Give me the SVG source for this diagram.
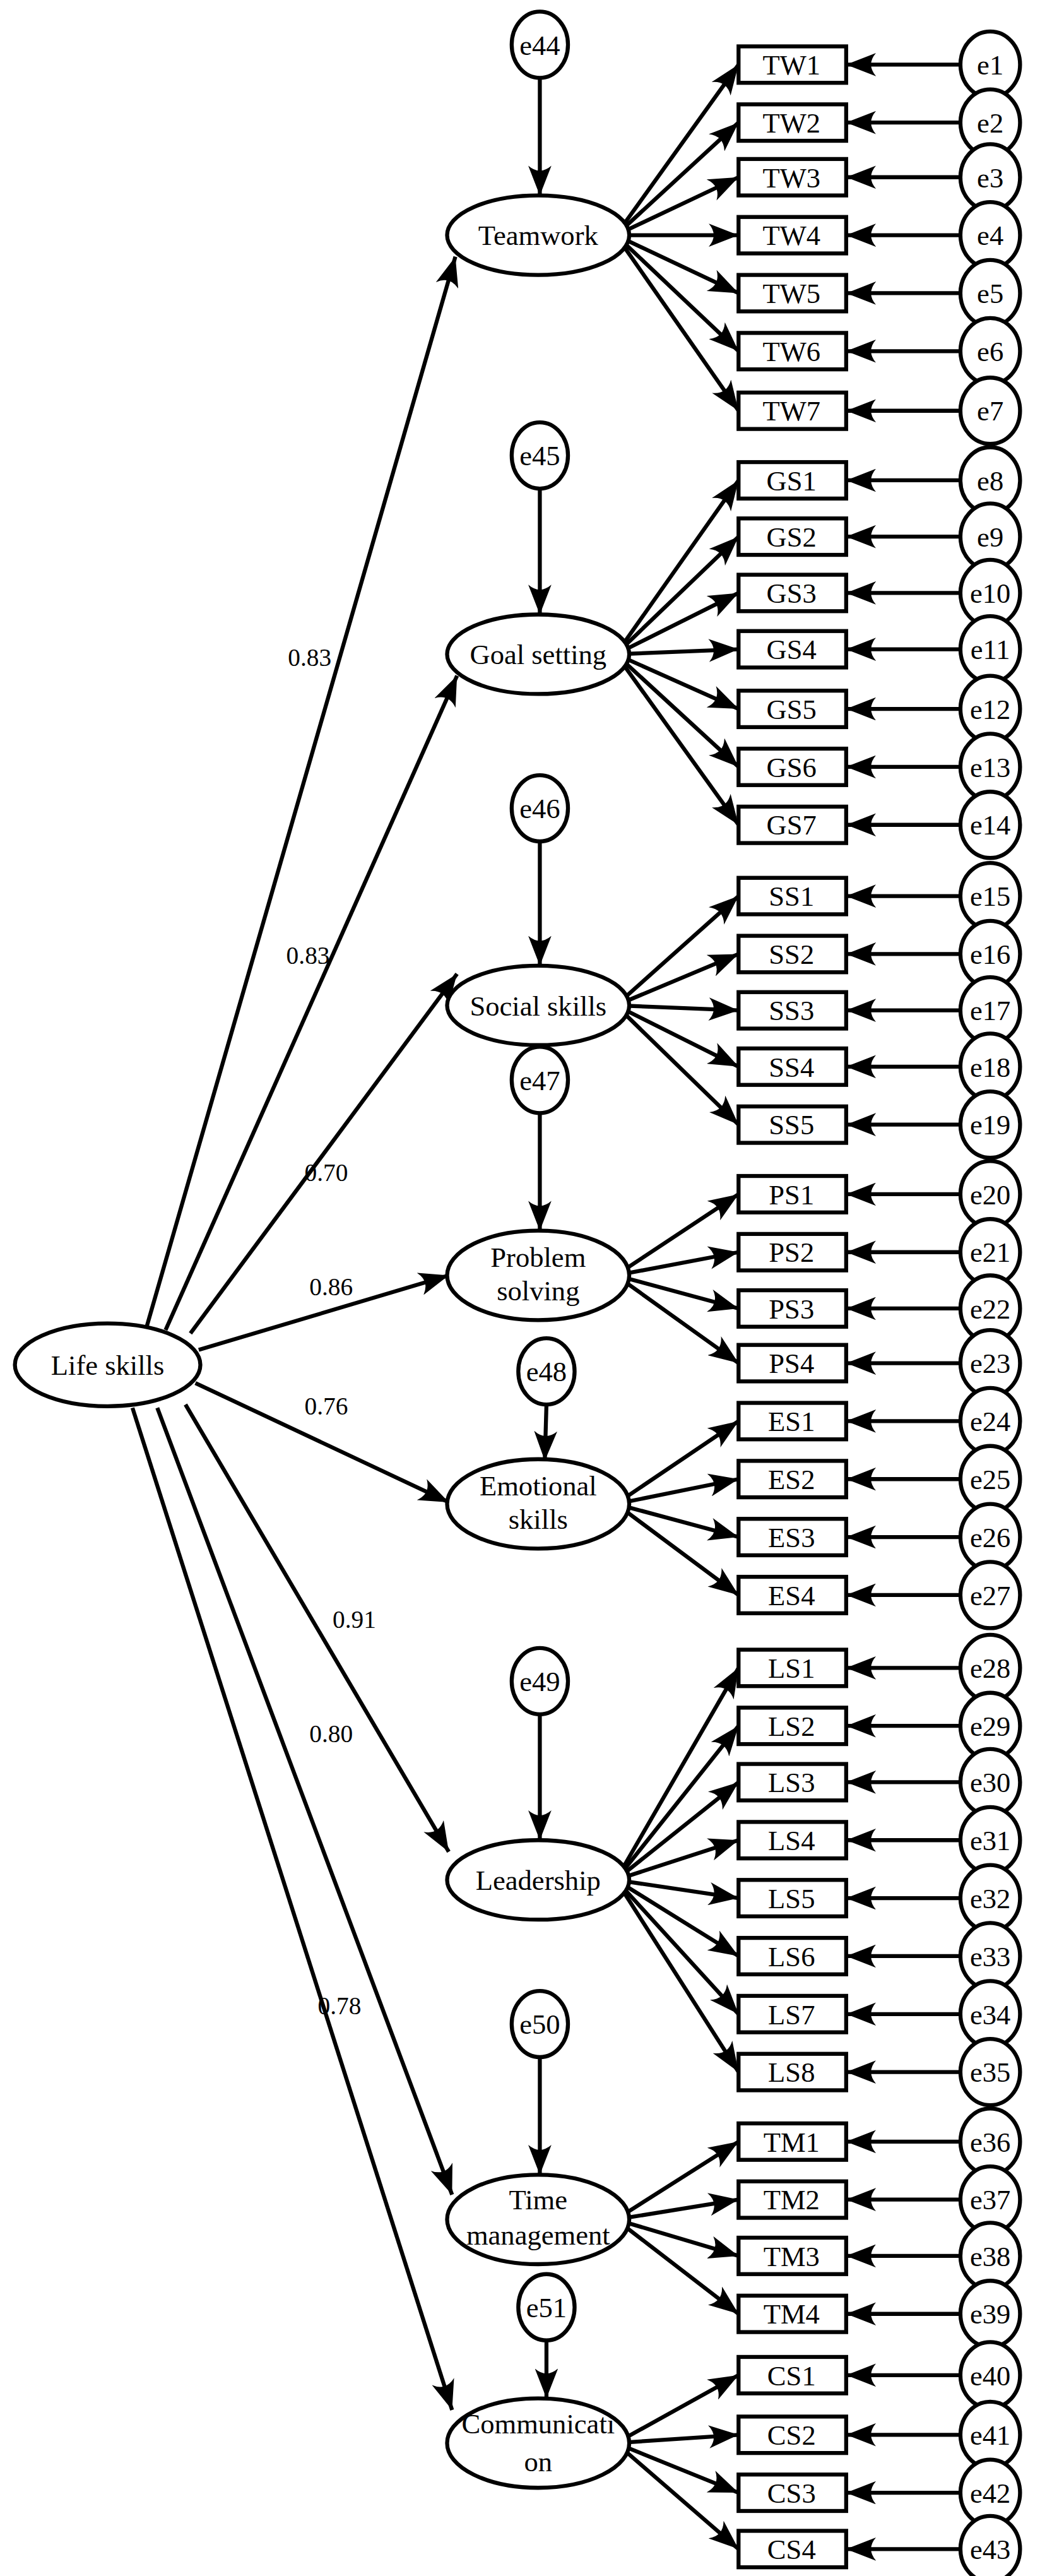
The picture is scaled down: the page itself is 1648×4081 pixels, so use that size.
<svg xmlns="http://www.w3.org/2000/svg" width="1648" height="4081" viewBox="0 0 1648 4081">
<style>
.n{fill:#fff;stroke:#000;stroke-width:2.4}
.c line{stroke:#000;stroke-width:2.4;marker-end:url(#a)}
text{font-family:"Liberation Serif","Times New Roman",serif;font-size:17px;text-anchor:middle;fill:#000}
.l{font-size:15px}
</style>
<defs><marker id="a" markerUnits="userSpaceOnUse" markerWidth="18" markerHeight="14" refX="18" refY="7" orient="auto"><path d="M0,0 L18,7 L0,14 Q6,7 0,0 z" fill="#000"/></marker></defs>
<rect width="1648" height="4081" fill="#fff"/>
<g transform="scale(2.624)">
<g id="connectors" class="c">
<line x1="88" y1="803" x2="275" y2="155"/>
<line x1="100" y1="803" x2="276" y2="408"/>
<line x1="115" y1="805" x2="276" y2="588"/>
<line x1="120" y1="815" x2="271" y2="770"/>
<line x1="118" y1="835" x2="271" y2="907"/>
<line x1="112" y1="848" x2="271" y2="1118"/>
<line x1="95" y1="850" x2="273" y2="1325"/>
<line x1="80" y1="850" x2="273" y2="1455"/>
<line x1="326" y1="47" x2="326" y2="118"/>
<line x1="326" y1="295" x2="326" y2="371"/>
<line x1="326" y1="508" x2="326" y2="583"/>
<line x1="326" y1="672" x2="326" y2="743"/>
<line x1="330" y1="848" x2="329" y2="882"/>
<line x1="326" y1="1035" x2="326" y2="1111"/>
<line x1="326" y1="1242" x2="326" y2="1313"/>
<line x1="330" y1="1413" x2="330" y2="1448"/>
<line x1="372" y1="142" x2="446" y2="39"/><line x1="372" y1="142" x2="446" y2="74"/><line x1="372" y1="142" x2="446" y2="107"/><line x1="372" y1="142" x2="446" y2="142"/><line x1="372" y1="142" x2="446" y2="177"/><line x1="372" y1="142" x2="446" y2="212"/><line x1="372" y1="142" x2="446" y2="248"/>
<line x1="372" y1="395" x2="446" y2="290"/><line x1="372" y1="395" x2="446" y2="324"/><line x1="372" y1="395" x2="446" y2="358"/><line x1="372" y1="395" x2="446" y2="392"/><line x1="372" y1="395" x2="446" y2="428"/><line x1="372" y1="395" x2="446" y2="463"/><line x1="372" y1="395" x2="446" y2="498"/>
<line x1="372" y1="607" x2="446" y2="541"/><line x1="372" y1="607" x2="446" y2="576"/><line x1="372" y1="607" x2="446" y2="610"/><line x1="372" y1="607" x2="446" y2="644"/><line x1="372" y1="607" x2="446" y2="679"/>
<line x1="372" y1="770" x2="446" y2="721"/><line x1="372" y1="770" x2="446" y2="756"/><line x1="372" y1="770" x2="446" y2="790"/><line x1="372" y1="770" x2="446" y2="823"/>
<line x1="372" y1="908" x2="446" y2="858"/><line x1="372" y1="908" x2="446" y2="893"/><line x1="372" y1="908" x2="446" y2="928"/><line x1="372" y1="908" x2="446" y2="963"/>
<line x1="372" y1="1135" x2="446" y2="1007"/><line x1="372" y1="1135" x2="446" y2="1042"/><line x1="372" y1="1135" x2="446" y2="1076"/><line x1="372" y1="1135" x2="446" y2="1111"/><line x1="372" y1="1135" x2="446" y2="1146"/><line x1="372" y1="1135" x2="446" y2="1181"/><line x1="372" y1="1135" x2="446" y2="1216"/><line x1="372" y1="1135" x2="446" y2="1251"/>
<line x1="372" y1="1340" x2="446" y2="1293"/><line x1="372" y1="1340" x2="446" y2="1328"/><line x1="372" y1="1340" x2="446" y2="1362"/><line x1="372" y1="1340" x2="446" y2="1397"/>
<line x1="372" y1="1475" x2="446" y2="1434"/><line x1="372" y1="1475" x2="446" y2="1470"/><line x1="372" y1="1475" x2="446" y2="1505"/><line x1="372" y1="1475" x2="446" y2="1539"/>
<line x1="598" y1="39" x2="511" y2="39"/><line x1="598" y1="74" x2="511" y2="74"/><line x1="598" y1="107" x2="511" y2="107"/><line x1="598" y1="142" x2="511" y2="142"/><line x1="598" y1="177" x2="511" y2="177"/><line x1="598" y1="212" x2="511" y2="212"/><line x1="598" y1="248" x2="511" y2="248"/>
<line x1="598" y1="290" x2="511" y2="290"/><line x1="598" y1="324" x2="511" y2="324"/><line x1="598" y1="358" x2="511" y2="358"/><line x1="598" y1="392" x2="511" y2="392"/><line x1="598" y1="428" x2="511" y2="428"/><line x1="598" y1="463" x2="511" y2="463"/><line x1="598" y1="498" x2="511" y2="498"/>
<line x1="598" y1="541" x2="511" y2="541"/><line x1="598" y1="576" x2="511" y2="576"/><line x1="598" y1="610" x2="511" y2="610"/><line x1="598" y1="644" x2="511" y2="644"/><line x1="598" y1="679" x2="511" y2="679"/>
<line x1="598" y1="721" x2="511" y2="721"/><line x1="598" y1="756" x2="511" y2="756"/><line x1="598" y1="790" x2="511" y2="790"/><line x1="598" y1="823" x2="511" y2="823"/>
<line x1="598" y1="858" x2="511" y2="858"/><line x1="598" y1="893" x2="511" y2="893"/><line x1="598" y1="928" x2="511" y2="928"/><line x1="598" y1="963" x2="511" y2="963"/>
<line x1="598" y1="1007" x2="511" y2="1007"/><line x1="598" y1="1042" x2="511" y2="1042"/><line x1="598" y1="1076" x2="511" y2="1076"/><line x1="598" y1="1111" x2="511" y2="1111"/><line x1="598" y1="1146" x2="511" y2="1146"/><line x1="598" y1="1181" x2="511" y2="1181"/><line x1="598" y1="1216" x2="511" y2="1216"/><line x1="598" y1="1251" x2="511" y2="1251"/>
<line x1="598" y1="1293" x2="511" y2="1293"/><line x1="598" y1="1328" x2="511" y2="1328"/><line x1="598" y1="1362" x2="511" y2="1362"/><line x1="598" y1="1397" x2="511" y2="1397"/>
<line x1="598" y1="1434" x2="511" y2="1434"/><line x1="598" y1="1470" x2="511" y2="1470"/><line x1="598" y1="1505" x2="511" y2="1505"/><line x1="598" y1="1539" x2="511" y2="1539"/>
</g>
<g id="coefs">
<text class="l" x="187" y="402">0.83</text><text class="l" x="186" y="582">0.83</text><text class="l" x="197" y="713">0.70</text><text class="l" x="200" y="782">0.86</text><text class="l" x="197" y="854">0.76</text><text class="l" x="214" y="983">0.91</text><text class="l" x="200" y="1052">0.80</text><text class="l" x="205" y="1216">0.78</text>
</g>
<g id="lifeskills"><ellipse class="n" cx="65" cy="824" rx="56" ry="25"/><text x="65" y="830">Life skills</text></g>
<g id="teamwork"><ellipse class="n" cx="325" cy="142" rx="55" ry="24"/><text x="325" y="148">Teamwork</text></g>
<g id="goalsetting"><ellipse class="n" cx="325" cy="395" rx="55" ry="24"/><text x="325" y="401">Goal setting</text></g>
<g id="socialskills"><ellipse class="n" cx="325" cy="607" rx="55" ry="24"/><text x="325" y="613">Social skills</text></g>
<g id="problemsolving"><ellipse class="n" cx="325" cy="770" rx="55" ry="27"/><text x="325" y="765">Problem</text><text x="325" y="785">solving</text></g>
<g id="emotionalskills"><ellipse class="n" cx="325" cy="908" rx="55" ry="27"/><text x="325" y="903">Emotional</text><text x="325" y="923">skills</text></g>
<g id="leadership"><ellipse class="n" cx="325" cy="1135" rx="55" ry="24"/><text x="325" y="1141">Leadership</text></g>
<g id="timemanagement"><ellipse class="n" cx="325" cy="1340" rx="55" ry="27"/><text x="325" y="1334">Time</text><text x="325" y="1355">management</text></g>
<g id="communication"><ellipse class="n" cx="325" cy="1475" rx="55" ry="27"/><text x="325" y="1469">Communicati</text><text x="325" y="1492">on</text></g>
<g id="e44"><ellipse class="n" cx="326" cy="27" rx="17" ry="20"/><text x="326" y="33">e44</text></g>
<g id="e45"><ellipse class="n" cx="326" cy="275" rx="17" ry="20"/><text x="326" y="281">e45</text></g>
<g id="e46"><ellipse class="n" cx="326" cy="488" rx="17" ry="20"/><text x="326" y="494">e46</text></g>
<g id="e47"><ellipse class="n" cx="326" cy="652" rx="17" ry="20"/><text x="326" y="658">e47</text></g>
<g id="e48"><ellipse class="n" cx="330" cy="828" rx="17" ry="20"/><text x="330" y="834">e48</text></g>
<g id="e49"><ellipse class="n" cx="326" cy="1015" rx="17" ry="20"/><text x="326" y="1021">e49</text></g>
<g id="e50"><ellipse class="n" cx="326" cy="1222" rx="17" ry="20"/><text x="326" y="1228">e50</text></g>
<g id="e51"><ellipse class="n" cx="330" cy="1393" rx="17" ry="20"/><text x="330" y="1399">e51</text></g>
<g id="TW1"><rect class="n" x="446" y="28" width="65" height="22"/><text x="478" y="45">TW1</text></g>
<g id="TW2"><rect class="n" x="446" y="63" width="65" height="22"/><text x="478" y="80">TW2</text></g>
<g id="TW3"><rect class="n" x="446" y="96" width="65" height="22"/><text x="478" y="113">TW3</text></g>
<g id="TW4"><rect class="n" x="446" y="131" width="65" height="22"/><text x="478" y="148">TW4</text></g>
<g id="TW5"><rect class="n" x="446" y="166" width="65" height="22"/><text x="478" y="183">TW5</text></g>
<g id="TW6"><rect class="n" x="446" y="201" width="65" height="22"/><text x="478" y="218">TW6</text></g>
<g id="TW7"><rect class="n" x="446" y="237" width="65" height="22"/><text x="478" y="254">TW7</text></g>
<g id="GS1"><rect class="n" x="446" y="279" width="65" height="22"/><text x="478" y="296">GS1</text></g>
<g id="GS2"><rect class="n" x="446" y="313" width="65" height="22"/><text x="478" y="330">GS2</text></g>
<g id="GS3"><rect class="n" x="446" y="347" width="65" height="22"/><text x="478" y="364">GS3</text></g>
<g id="GS4"><rect class="n" x="446" y="381" width="65" height="22"/><text x="478" y="398">GS4</text></g>
<g id="GS5"><rect class="n" x="446" y="417" width="65" height="22"/><text x="478" y="434">GS5</text></g>
<g id="GS6"><rect class="n" x="446" y="452" width="65" height="22"/><text x="478" y="469">GS6</text></g>
<g id="GS7"><rect class="n" x="446" y="487" width="65" height="22"/><text x="478" y="504">GS7</text></g>
<g id="SS1"><rect class="n" x="446" y="530" width="65" height="22"/><text x="478" y="547">SS1</text></g>
<g id="SS2"><rect class="n" x="446" y="565" width="65" height="22"/><text x="478" y="582">SS2</text></g>
<g id="SS3"><rect class="n" x="446" y="599" width="65" height="22"/><text x="478" y="616">SS3</text></g>
<g id="SS4"><rect class="n" x="446" y="633" width="65" height="22"/><text x="478" y="650">SS4</text></g>
<g id="SS5"><rect class="n" x="446" y="668" width="65" height="22"/><text x="478" y="685">SS5</text></g>
<g id="PS1"><rect class="n" x="446" y="710" width="65" height="22"/><text x="478" y="727">PS1</text></g>
<g id="PS2"><rect class="n" x="446" y="745" width="65" height="22"/><text x="478" y="762">PS2</text></g>
<g id="PS3"><rect class="n" x="446" y="779" width="65" height="22"/><text x="478" y="796">PS3</text></g>
<g id="PS4"><rect class="n" x="446" y="812" width="65" height="22"/><text x="478" y="829">PS4</text></g>
<g id="ES1"><rect class="n" x="446" y="847" width="65" height="22"/><text x="478" y="864">ES1</text></g>
<g id="ES2"><rect class="n" x="446" y="882" width="65" height="22"/><text x="478" y="899">ES2</text></g>
<g id="ES3"><rect class="n" x="446" y="917" width="65" height="22"/><text x="478" y="934">ES3</text></g>
<g id="ES4"><rect class="n" x="446" y="952" width="65" height="22"/><text x="478" y="969">ES4</text></g>
<g id="LS1"><rect class="n" x="446" y="996" width="65" height="22"/><text x="478" y="1013">LS1</text></g>
<g id="LS2"><rect class="n" x="446" y="1031" width="65" height="22"/><text x="478" y="1048">LS2</text></g>
<g id="LS3"><rect class="n" x="446" y="1065" width="65" height="22"/><text x="478" y="1082">LS3</text></g>
<g id="LS4"><rect class="n" x="446" y="1100" width="65" height="22"/><text x="478" y="1117">LS4</text></g>
<g id="LS5"><rect class="n" x="446" y="1135" width="65" height="22"/><text x="478" y="1152">LS5</text></g>
<g id="LS6"><rect class="n" x="446" y="1170" width="65" height="22"/><text x="478" y="1187">LS6</text></g>
<g id="LS7"><rect class="n" x="446" y="1205" width="65" height="22"/><text x="478" y="1222">LS7</text></g>
<g id="LS8"><rect class="n" x="446" y="1240" width="65" height="22"/><text x="478" y="1257">LS8</text></g>
<g id="TM1"><rect class="n" x="446" y="1282" width="65" height="22"/><text x="478" y="1299">TM1</text></g>
<g id="TM2"><rect class="n" x="446" y="1317" width="65" height="22"/><text x="478" y="1334">TM2</text></g>
<g id="TM3"><rect class="n" x="446" y="1351" width="65" height="22"/><text x="478" y="1368">TM3</text></g>
<g id="TM4"><rect class="n" x="446" y="1386" width="65" height="22"/><text x="478" y="1403">TM4</text></g>
<g id="CS1"><rect class="n" x="446" y="1423" width="65" height="22"/><text x="478" y="1440">CS1</text></g>
<g id="CS2"><rect class="n" x="446" y="1459" width="65" height="22"/><text x="478" y="1476">CS2</text></g>
<g id="CS3"><rect class="n" x="446" y="1494" width="65" height="22"/><text x="478" y="1511">CS3</text></g>
<g id="CS4"><rect class="n" x="446" y="1528" width="65" height="22"/><text x="478" y="1545">CS4</text></g>
<g id="e1"><ellipse class="n" cx="598" cy="39" rx="18" ry="20"/><text x="598" y="45">e1</text></g>
<g id="e2"><ellipse class="n" cx="598" cy="74" rx="18" ry="20"/><text x="598" y="80">e2</text></g>
<g id="e3"><ellipse class="n" cx="598" cy="107" rx="18" ry="20"/><text x="598" y="113">e3</text></g>
<g id="e4"><ellipse class="n" cx="598" cy="142" rx="18" ry="20"/><text x="598" y="148">e4</text></g>
<g id="e5"><ellipse class="n" cx="598" cy="177" rx="18" ry="20"/><text x="598" y="183">e5</text></g>
<g id="e6"><ellipse class="n" cx="598" cy="212" rx="18" ry="20"/><text x="598" y="218">e6</text></g>
<g id="e7"><ellipse class="n" cx="598" cy="248" rx="18" ry="20"/><text x="598" y="254">e7</text></g>
<g id="e8"><ellipse class="n" cx="598" cy="290" rx="18" ry="20"/><text x="598" y="296">e8</text></g>
<g id="e9"><ellipse class="n" cx="598" cy="324" rx="18" ry="20"/><text x="598" y="330">e9</text></g>
<g id="e10"><ellipse class="n" cx="598" cy="358" rx="18" ry="20"/><text x="598" y="364">e10</text></g>
<g id="e11"><ellipse class="n" cx="598" cy="392" rx="18" ry="20"/><text x="598" y="398">e11</text></g>
<g id="e12"><ellipse class="n" cx="598" cy="428" rx="18" ry="20"/><text x="598" y="434">e12</text></g>
<g id="e13"><ellipse class="n" cx="598" cy="463" rx="18" ry="20"/><text x="598" y="469">e13</text></g>
<g id="e14"><ellipse class="n" cx="598" cy="498" rx="18" ry="20"/><text x="598" y="504">e14</text></g>
<g id="e15"><ellipse class="n" cx="598" cy="541" rx="18" ry="20"/><text x="598" y="547">e15</text></g>
<g id="e16"><ellipse class="n" cx="598" cy="576" rx="18" ry="20"/><text x="598" y="582">e16</text></g>
<g id="e17"><ellipse class="n" cx="598" cy="610" rx="18" ry="20"/><text x="598" y="616">e17</text></g>
<g id="e18"><ellipse class="n" cx="598" cy="644" rx="18" ry="20"/><text x="598" y="650">e18</text></g>
<g id="e19"><ellipse class="n" cx="598" cy="679" rx="18" ry="20"/><text x="598" y="685">e19</text></g>
<g id="e20"><ellipse class="n" cx="598" cy="721" rx="18" ry="20"/><text x="598" y="727">e20</text></g>
<g id="e21"><ellipse class="n" cx="598" cy="756" rx="18" ry="20"/><text x="598" y="762">e21</text></g>
<g id="e22"><ellipse class="n" cx="598" cy="790" rx="18" ry="20"/><text x="598" y="796">e22</text></g>
<g id="e23"><ellipse class="n" cx="598" cy="823" rx="18" ry="20"/><text x="598" y="829">e23</text></g>
<g id="e24"><ellipse class="n" cx="598" cy="858" rx="18" ry="20"/><text x="598" y="864">e24</text></g>
<g id="e25"><ellipse class="n" cx="598" cy="893" rx="18" ry="20"/><text x="598" y="899">e25</text></g>
<g id="e26"><ellipse class="n" cx="598" cy="928" rx="18" ry="20"/><text x="598" y="934">e26</text></g>
<g id="e27"><ellipse class="n" cx="598" cy="963" rx="18" ry="20"/><text x="598" y="969">e27</text></g>
<g id="e28"><ellipse class="n" cx="598" cy="1007" rx="18" ry="20"/><text x="598" y="1013">e28</text></g>
<g id="e29"><ellipse class="n" cx="598" cy="1042" rx="18" ry="20"/><text x="598" y="1048">e29</text></g>
<g id="e30"><ellipse class="n" cx="598" cy="1076" rx="18" ry="20"/><text x="598" y="1082">e30</text></g>
<g id="e31"><ellipse class="n" cx="598" cy="1111" rx="18" ry="20"/><text x="598" y="1117">e31</text></g>
<g id="e32"><ellipse class="n" cx="598" cy="1146" rx="18" ry="20"/><text x="598" y="1152">e32</text></g>
<g id="e33"><ellipse class="n" cx="598" cy="1181" rx="18" ry="20"/><text x="598" y="1187">e33</text></g>
<g id="e34"><ellipse class="n" cx="598" cy="1216" rx="18" ry="20"/><text x="598" y="1222">e34</text></g>
<g id="e35"><ellipse class="n" cx="598" cy="1251" rx="18" ry="20"/><text x="598" y="1257">e35</text></g>
<g id="e36"><ellipse class="n" cx="598" cy="1293" rx="18" ry="20"/><text x="598" y="1299">e36</text></g>
<g id="e37"><ellipse class="n" cx="598" cy="1328" rx="18" ry="20"/><text x="598" y="1334">e37</text></g>
<g id="e38"><ellipse class="n" cx="598" cy="1362" rx="18" ry="20"/><text x="598" y="1368">e38</text></g>
<g id="e39"><ellipse class="n" cx="598" cy="1397" rx="18" ry="20"/><text x="598" y="1403">e39</text></g>
<g id="e40"><ellipse class="n" cx="598" cy="1434" rx="18" ry="20"/><text x="598" y="1440">e40</text></g>
<g id="e41"><ellipse class="n" cx="598" cy="1470" rx="18" ry="20"/><text x="598" y="1476">e41</text></g>
<g id="e42"><ellipse class="n" cx="598" cy="1505" rx="18" ry="20"/><text x="598" y="1511">e42</text></g>
<g id="e43"><ellipse class="n" cx="598" cy="1539" rx="18" ry="20"/><text x="598" y="1545">e43</text></g>
</g>
</svg>
